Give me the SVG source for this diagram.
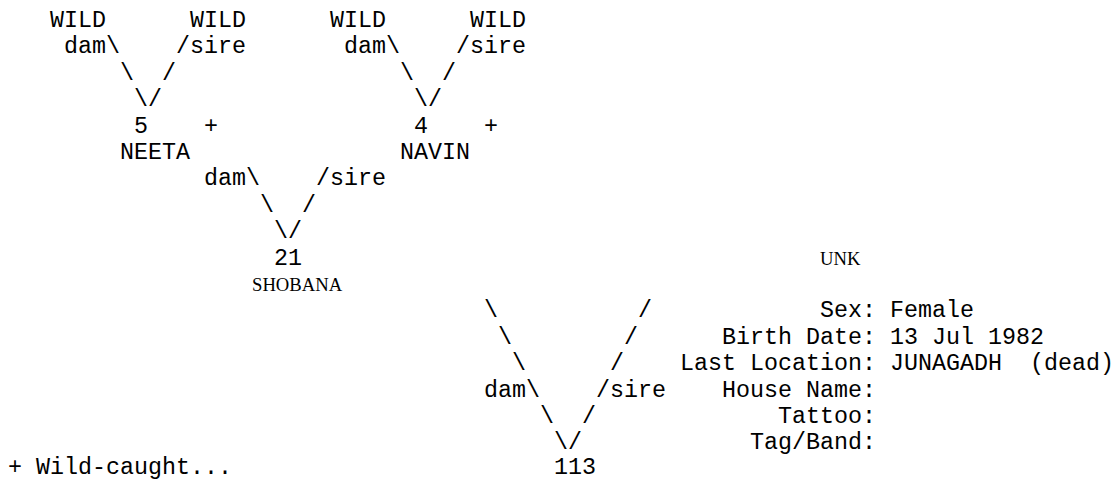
<svg xmlns="http://www.w3.org/2000/svg" width="1118" height="480" viewBox="0 0 1118 480">
<style>
text{font-family:"Liberation Mono","Courier New",monospace;font-size:23.333px;fill:#000;white-space:pre}
.serif{font-family:"Liberation Serif","Times New Roman",serif;font-size:18.67px}
.lbl{text-anchor:end}
</style>
<rect width="1118" height="480" fill="#fff"/>
<g id="wild-dam-5"><text x="50" y="27">WILD</text></g>
<g id="wild-sire-5"><text x="190" y="27">WILD</text></g>
<g id="wild-dam-4"><text x="330" y="27">WILD</text></g>
<g id="wild-sire-4"><text x="470" y="27">WILD</text></g>
<g id="connectors">
<text x="64" y="53.4">dam\</text><text x="176" y="53.4">/sire</text>
<text x="344" y="53.4">dam\</text><text x="456" y="53.4">/sire</text>
<text x="120" y="79.8">\</text><text x="162" y="79.8">/</text>
<text x="400" y="79.8">\</text><text x="442" y="79.8">/</text>
<text x="134" y="106.2">\/</text><text x="414" y="106.2">\/</text>
<text x="204" y="185.4">dam\</text><text x="316" y="185.4">/sire</text>
<text x="260" y="211.8">\</text><text x="302" y="211.8">/</text>
<text x="274" y="238.2">\/</text>
<text x="484" y="317.4">\</text><text x="638" y="317.4">/</text>
<text x="498" y="343.8">\</text><text x="624" y="343.8">/</text>
<text x="512" y="370.2">\</text><text x="610" y="370.2">/</text>
<text x="484" y="396.6">dam\</text><text x="596" y="396.6">/sire</text>
<text x="540" y="423">\</text><text x="582" y="423">/</text>
<text x="554" y="449.4">\/</text>
</g>
<g id="node-5"><text x="134" y="132.6">5</text><text x="204" y="132.6">+</text><text x="120" y="159">NEETA</text></g>
<g id="node-4"><text x="414" y="132.6">4</text><text x="484" y="132.6">+</text><text x="400" y="159">NAVIN</text></g>
<g id="node-21"><text x="274" y="264.6">21</text><text class="serif" x="252" y="291">SHOBANA</text></g>
<g id="node-unk"><text class="serif" x="820" y="264.6">UNK</text></g>
<g id="node-113"><text x="554" y="474">113</text></g>
<g id="info">
<text class="lbl" x="876" y="317.4">Sex:</text><text x="890" y="317.4">Female</text>
<text class="lbl" x="876" y="343.8">Birth Date:</text><text x="890" y="343.8">13 Jul 1982</text>
<text class="lbl" x="876" y="370.2">Last Location:</text><text x="890" y="370.2">JUNAGADH</text><text x="1030" y="370.2">(dead)</text>
<text class="lbl" x="876" y="396.6">House Name:</text>
<text class="lbl" x="876" y="423">Tattoo:</text>
<text class="lbl" x="876" y="449.4">Tag/Band:</text>
</g>
<g id="legend"><text x="8" y="474">+ Wild-caught...</text></g>
</svg>
